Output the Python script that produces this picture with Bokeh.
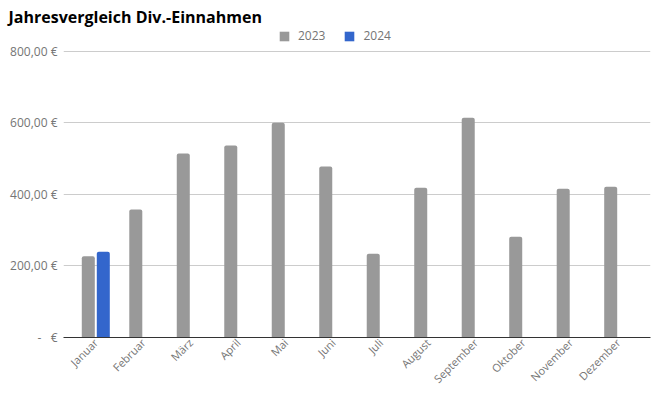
from math import pi
from bokeh.plotting import figure
from bokeh.models import (FactorRange, Range1d, FixedTicker, Legend, LegendItem,
                          ColumnDataSource)
from bokeh.transform import dodge
from bokeh.embed import file_html
from bokeh.resources import INLINE

# ---- data ----
months = ["Januar", "Februar", "März", "April", "Mai", "Juni", "Juli",
          "August", "September", "Oktober", "November", "Dezember"]
values_2023 = [227, 358, 515, 537, 601, 478, 234, 419, 615, 282, 416, 422]
months_2024 = ["Januar"]
values_2024 = [240]
y_ticks = [0, 200, 400, 600, 800]
y_tick_labels = ["-   €", "200,00 €", "400,00 €", "600,00 €", "800,00 €"]
series_names = ["2023", "2024"]
series_colors = ["#999999", "#3366cc"]

FONT = "Open Sans"
GRAY = "#757575"

p = figure(x_range=FactorRange(*months, range_padding=0.03, range_padding_units="percent"),
           y_range=Range1d(0, 864.3),
           width=660, height=394,
           output_backend="svg", toolbar_location=None,
           title="Jahresvergleich Div.-Einnahmen",
           min_border_left=63, min_border_right=10, min_border_top=28, min_border_bottom=57)

src23 = ColumnDataSource(dict(m=months, v=values_2023))
src24 = ColumnDataSource(dict(m=months_2024, v=values_2024))

r1 = p.vbar(x=dodge("m", -0.158, range=p.x_range), top="v", bottom=0, width=0.274,
            source=src23, fill_color=series_colors[0], line_color=None, border_radius=(2, 2, 0, 0))
r2 = p.vbar(x=dodge("m", 0.158, range=p.x_range), top="v", bottom=0, width=0.274,
            source=src24, fill_color=series_colors[1], line_color=None, border_radius=(2, 2, 0, 0))

# title
p.title.text_font = FONT
p.title.text_font_size = "16px"
p.title.text_font_style = "bold"
p.title.text_color = "#000000"
p.title.align = "left"
p.title.offset = -55
p.title.standoff = 2

# legend (inside the frame, above the 800 gridline)
legend = Legend(items=[LegendItem(label=series_names[0], renderers=[r1]),
                       LegendItem(label=series_names[1], renderers=[r2])],
                orientation="horizontal", location=(215, 293),
                glyph_width=12, glyph_height=12, label_standoff=8, spacing=18,
                label_text_font=FONT, label_text_font_size="12px", label_text_color=GRAY,
                label_height=12,
                border_line_color=None, background_fill_alpha=0, padding=0, margin=0)
p.add_layout(legend, "center")

# y axis
p.yaxis.ticker = FixedTicker(ticks=y_ticks)
p.yaxis.major_label_overrides = {t: l.replace(" ", "\u00a0") for t, l in zip(y_ticks, y_tick_labels)}
p.yaxis.axis_line_color = None
p.yaxis.major_tick_line_color = None
p.yaxis.major_tick_out = 0
p.yaxis.minor_tick_line_color = None
p.yaxis.major_label_standoff = 6
p.yaxis.major_label_text_font = FONT
p.yaxis.major_label_text_font_size = "12px"
p.yaxis.major_label_text_color = GRAY

# x axis
p.xaxis.axis_line_color = "#333333"
p.xaxis.axis_line_width = 1
p.xaxis.major_tick_line_color = None
p.xaxis.major_tick_out = 0
p.xaxis.minor_tick_line_color = None
p.xaxis.major_label_orientation = pi / 4
p.xaxis.major_label_standoff = 3
p.xaxis.major_label_text_font = FONT
p.xaxis.major_label_text_font_size = "11px"
p.xaxis.major_label_text_color = GRAY

p.xgrid.grid_line_color = None
p.ygrid.grid_line_color = "#cccccc"
p.ygrid.ticker = FixedTicker(ticks=y_ticks)
p.outline_line_color = None

open("out.html", "w").write(file_html(p, INLINE))
